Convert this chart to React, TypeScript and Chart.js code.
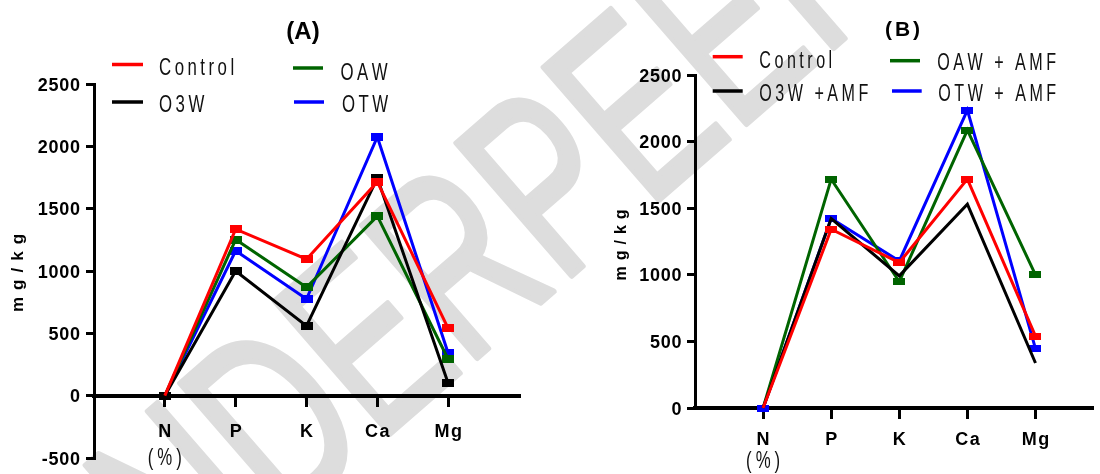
import React, { useEffect, useRef } from "react";
import { Chart, registerables } from "chart.js";
Chart.register(...registerables);

// ---------- data ----------
const categories = ["N", "P", "K", "Ca", "Mg"];
const categoryX = [1, 2, 3, 4, 5];
const nSubLabel = "(%)";
const yTicksA = [-500, 0, 500, 1000, 1500, 2000, 2500];
const yTicksB = [0, 500, 1000, 1500, 2000, 2500];
const yTitle = "mg/kg";
const titleA = "(A)";
const titleB = "(B)";
const watermarkText = "UNDERPEER REVIEW";

const namesA = ["Control", "O3W", "OAW", "OTW"];
const namesB = ["Control", "O3W +AMF", "OAW + AMF", "OTW + AMF"];

const controlA = [0, 1335, 1095, 1715, 540];
const o3wA = [0, 1000, 560, 1745, 100];
const oawA = [0, 1252, 870, 1440, 292];
const otwA = [0, 1162, 775, 2075, 340];

const controlB = [0, 1342, 1092, 1718, 540];
const o3wB = [0, 1422, 992, 1530, 338];
const oawB = [0, 1718, 948, 2087, 999];
const otwB = [0, 1423, 1104, 2237, 446];

const seriesColors = ["#ff0000", "#000000", "#006400", "#0000ff"];

const FONT = '"Liberation Sans", Arial, Helvetica, sans-serif';

type TextOpts = { size: number; weight: string; sx: number; ls: number; align: "left" | "center" | "right"; color?: string };

function drawText(ctx: CanvasRenderingContext2D, text: string, x: number, y: number, o: TextOpts) {
  ctx.save();
  ctx.font = `${o.weight} ${o.size}px ${FONT}`;
  ctx.fillStyle = o.color || "#000";
  ctx.textBaseline = "alphabetic";
  ctx.textAlign = "left";
  const chars = Array.from(text);
  const widths = chars.map((c) => ctx.measureText(c).width * o.sx);
  const total = widths.reduce((a, b) => a + b, 0) + o.ls * (chars.length - 1);
  let cx = o.align === "left" ? x : o.align === "center" ? x - total / 2 : x - total;
  chars.forEach((c, i) => {
    ctx.save();
    ctx.translate(cx, y);
    ctx.scale(o.sx, 1);
    ctx.fillText(c, 0, 0);
    ctx.restore();
    cx += widths[i] + o.ls;
  });
  ctx.restore();
}

function makeMarker(color: string, w: number, h: number) {
  const c = document.createElement("canvas");
  c.width = w;
  c.height = h;
  const g = c.getContext("2d")!;
  g.fillStyle = color;
  g.fillRect(0, 0, w, h);
  return c;
}

type LegendPos = { x1: number; x2: number; ly: number; tx: number; tb: number };
type PanelCfg = {
  names: string[];
  data: number[][];
  radii: number[][];
  yTicks: number[];
  xMax: number;
  padding: { left: number; right: number; top: number; bottom: number };
  markerW: number;
  markerH: number;
  title: { text: string; x: number; base: number; size: number; ls: number };
  legend: LegendPos[];
  legendSize: number;
  yLabelRight: number;
  xLabelBase: number;
  subBase: number;
  yTitleX: number;
  yTitleY: number;
  yTitleSize: number;
  yTitleLs: number;
};

const panelA: PanelCfg = {
  names: namesA,
  data: [controlA, o3wA, oawA, otwA],
  radii: [
    [0, 5, 5, 5, 5],
    [5, 5, 5, 5, 5],
    [0, 5, 5, 5, 5],
    [0, 5, 5, 5, 5],
  ],
  yTicks: yTicksA,
  xMax: 6,
  padding: { left: 86, right: 31, top: 84, bottom: 16 },
  markerW: 12,
  markerH: 8,
  title: { text: titleA, x: 303, base: 39, size: 24, ls: 0 },
  legend: [
    { x1: 112, x2: 143, ly: 64.5, tx: 159, tb: 75 },
    { x1: 112, x2: 143, ly: 102, tx: 159, tb: 112 },
    { x1: 293, x2: 323, ly: 68, tx: 340.5, tb: 80 },
    { x1: 294, x2: 324, ly: 102, tx: 342, tb: 112 },
  ],
  legendSize: 24,
  yLabelRight: 80,
  xLabelBase: 436.5,
  subBase: 465,
  yTitleX: 19,
  yTitleY: 273,
  yTitleSize: 17,
  yTitleLs: 7,
};

const panelB: PanelCfg = {
  names: namesB,
  data: [controlB, o3wB, oawB, otwB],
  radii: [
    [0, 5, 5, 5, 5],
    [0, 0, 0, 0, 0],
    [0, 5, 5, 5, 5],
    [5, 5, 5, 5, 5],
  ],
  yTicks: yTicksB,
  xMax: 5.83,
  padding: { left: 137, right: 0, top: 75, bottom: 66 },
  markerW: 12,
  markerH: 7,
  title: { text: titleB, x: 352.5, base: 35.5, size: 21, ls: 3 },
  legend: [
    { x1: 162.7, x2: 192.7, ly: 56.7, tx: 209.3, tb: 67.7 },
    { x1: 162.7, x2: 192.7, ly: 91, tx: 209.3, tb: 101 },
    { x1: 340, x2: 370, ly: 60.7, tx: 387.3, tb: 70 },
    { x1: 342, x2: 371.7, ly: 91, tx: 388.3, tb: 101 },
  ],
  legendSize: 23,
  yLabelRight: 131.5,
  xLabelBase: 445,
  subBase: 468,
  yTitleX: 72,
  yTitleY: 245,
  yTitleSize: 16,
  yTitleLs: 6,
};

function textPlugin(cfg: PanelCfg) {
  return {
    id: "customText",
    afterDraw(chart: any) {
      const ctx: CanvasRenderingContext2D = chart.ctx;
      const xs = chart.scales.x;
      const ys = chart.scales.y;
      drawText(ctx, cfg.title.text, cfg.title.x, cfg.title.base, { size: cfg.title.size, weight: "bold", sx: 1, ls: cfg.title.ls, align: "center" });
      cfg.legend.forEach((it, i) => {
        ctx.save();
        ctx.strokeStyle = seriesColors[i];
        ctx.lineWidth = 3.5;
        ctx.beginPath();
        ctx.moveTo(it.x1, it.ly);
        ctx.lineTo(it.x2, it.ly);
        ctx.stroke();
        ctx.restore();
        drawText(ctx, cfg.names[i], it.tx, it.tb, { size: cfg.legendSize, weight: "normal", sx: 0.7, ls: 3.5, align: "left", color: "#111" });
      });
      cfg.yTicks.forEach((v) => {
        const py = ys.getPixelForValue(v);
        drawText(ctx, String(v), cfg.yLabelRight, py + 6.5, { size: 18, weight: "bold", sx: 1, ls: 0.7, align: "right" });
      });
      categories.forEach((c, i) => {
        const px = xs.getPixelForValue(categoryX[i]);
        drawText(ctx, c, px, cfg.xLabelBase, { size: 18, weight: "bold", sx: 1, ls: 1.5, align: "center" });
      });
      drawText(ctx, nSubLabel, xs.getPixelForValue(categoryX[0]), cfg.subBase, { size: 24, weight: "normal", sx: 0.7, ls: 4, align: "center", color: "#111" });
      ctx.save();
      ctx.translate(cfg.yTitleX, cfg.yTitleY);
      ctx.rotate(-Math.PI / 2);
      drawText(ctx, yTitle, 0, 0.253 * cfg.yTitleSize, { size: cfg.yTitleSize, weight: "bold", sx: 1, ls: cfg.yTitleLs, align: "center" });
      ctx.restore();
    },
  };
}

function Panel({ cfg, left }: { cfg: PanelCfg; left: number }) {
  const ref = useRef<HTMLCanvasElement>(null);
  useEffect(() => {
    const canvas = ref.current!;
    const datasets = cfg.data.map((vals, si) => ({
      label: cfg.names[si],
      data: vals.map((v, i) => ({ x: categoryX[i], y: v })),
      borderColor: seriesColors[si],
      backgroundColor: seriesColors[si],
      borderWidth: 3,
      pointStyle: makeMarker(seriesColors[si], cfg.markerW, cfg.markerH) as any,
      pointRadius: cfg.radii[si],
      pointHoverRadius: cfg.radii[si],
      tension: 0,
      clip: false as any,
    }));
    const chart = new Chart(canvas, {
      type: "line",
      data: { datasets },
      options: {
        animation: false,
        responsive: false,
        devicePixelRatio: 1,
        events: [],
        layout: { padding: cfg.padding },
        plugins: { legend: { display: false }, tooltip: { enabled: false }, title: { display: false } },
        scales: {
          x: {
            type: "linear",
            min: 0,
            max: cfg.xMax,
            position: { y: 0 } as any,
            afterBuildTicks: (s: any) => {
              s.ticks = categoryX.map((v) => ({ value: v }));
            },
            ticks: { display: false },
            grid: { drawOnChartArea: false, drawTicks: true, tickLength: 9, lineWidth: 3, color: "#000" },
            border: { display: true, width: 4, color: "#000" },
          },
          y: {
            type: "linear",
            min: cfg.yTicks[0],
            max: cfg.yTicks[cfg.yTicks.length - 1],
            afterBuildTicks: (s: any) => {
              s.ticks = cfg.yTicks.map((v) => ({ value: v }));
            },
            afterFit: (s: any) => {
              s.width = 8;
            },
            ticks: { display: false },
            grid: { drawOnChartArea: false, drawTicks: true, tickLength: 8, lineWidth: 3, color: "#000" },
            border: { display: true, width: 3, color: "#000" },
          },
        },
      },
      plugins: [textPlugin(cfg) as any],
    });
    return () => chart.destroy();
  }, [cfg]);
  return <canvas ref={ref} width={550} height={474} style={{ position: "absolute", left, top: 0, width: 550, height: 474 }} />;
}

function Watermark() {
  const ref = useRef<HTMLCanvasElement>(null);
  useEffect(() => {
    const c = ref.current!;
    const ctx = c.getContext("2d")!;
    ctx.clearRect(0, 0, 1100, 474);
    ctx.save();
    ctx.translate(95, 690);
    ctx.rotate((-41 * Math.PI) / 180);
    ctx.scale(0.68, 1);
    ctx.font = `normal 255px ${FONT}`;
    ctx.lineWidth = 6;
    ctx.lineJoin = "round";
    ctx.fillStyle = "#dddddd";
    ctx.strokeStyle = "#dddddd";
    ctx.fillText(watermarkText, 0, 0);
    ctx.strokeText(watermarkText, 0, 0);
    ctx.restore();
  }, []);
  return <canvas ref={ref} width={1100} height={474} style={{ position: "absolute", left: 0, top: 0, width: 1100, height: 474 }} />;
}

export default function App() {
  useEffect(() => {
    document.body.style.margin = "0";
  }, []);
  return (
    <div style={{ position: "fixed", left: 0, top: 0, width: 1100, height: 474, background: "#fff", overflow: "hidden" }}>
      <Watermark />
      <Panel cfg={panelA} left={0} />
      <Panel cfg={panelB} left={550} />
    </div>
  );
}
